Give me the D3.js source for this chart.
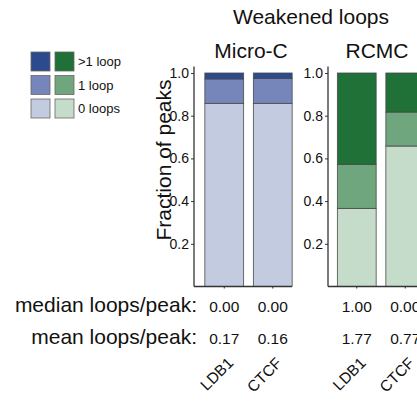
<!DOCTYPE html>
<html><head><meta charset="utf-8">
<script src="https://cdn.jsdelivr.net/npm/d3@7"></script>
<style>
html,body{margin:0;padding:0;background:#fff;}
text{font-family:"Liberation Sans",Arial,Helvetica,sans-serif;fill:#111;}
</style></head>
<body>
<svg id="c" width="417" height="407"></svg>
<script>
const categories = ["LDB1", "CTCF"];
const panels = ["Micro-C", "RCMC"];
const layers = ["0 loops", "1 loop", ">1 loop"];
const legendLabels = [">1 loop", "1 loop", "0 loops"];
// fractions per layer [0 loops, 1 loop, >1 loop]
const microC_LDB1 = [0.858, 0.114, 0.028];
const microC_CTCF = [0.858, 0.116, 0.026];
const rcmc_LDB1 = [0.366, 0.206, 0.428];
const rcmc_CTCF = [0.658, 0.159, 0.183];
const medianMicroC = ["0.00", "0.00"];
const medianRCMC = ["1.00", "0.00"];
const meanMicroC = ["0.17", "0.16"];
const meanRCMC = ["1.77", "0.77"];
const yTicks = [0.2, 0.4, 0.6, 0.8, 1.0];
const blues = ["#c3cbe1", "#7686ba", "#2d4a8e"];
const greens = ["#c5dccb", "#70a67e", "#1f7137"];

const svg = d3.select("#c");
const y = d3.scaleLinear().domain([0, 1]).range([286.5, 73]);

svg.append("text").attr("x", 311).attr("y", 24).attr("text-anchor", "middle")
  .style("font-size", "21px").text("Weakened loops");

const panelData = [
  {name: panels[0], axisX: 194, r0: 200, titleX: 251, colors: blues, vals: [microC_LDB1, microC_CTCF], med: medianMicroC, mean: meanMicroC},
  {name: panels[1], axisX: 328, r0: 332.5, titleX: 377, colors: greens, vals: [rcmc_LDB1, rcmc_CTCF], med: medianRCMC, mean: meanRCMC}
];

panelData.forEach(p => {
  const x = d3.scaleBand().domain(categories).range([p.r0, p.r0 + 97]).paddingInner(0.2).paddingOuter(0.1);
  const g = svg.append("g");
  categories.forEach((c, ci) => {
    const rows = [{}];
    layers.forEach((l, li) => rows[0][l] = p.vals[ci][li]);
    const stacked = d3.stack().keys(layers)(rows);
    stacked.forEach((s, li) => {
      g.append("rect").attr("x", x(c)).attr("width", x.bandwidth())
        .attr("y", y(s[0][1])).attr("height", y(s[0][0]) - y(s[0][1]))
        .attr("fill", p.colors[li]).attr("stroke", "#4a4a4a").attr("stroke-width", 0.8);
    });
  });
  const ya = g.append("g").attr("transform", `translate(${p.axisX},0)`)
    .call(d3.axisLeft(y).tickValues(yTicks).tickFormat(d3.format(".1f")).tickSize(3).tickPadding(2));
  ya.select(".domain").attr("d", `M0,${y(1.03)}V${y(0)}`).attr("stroke", "#333").attr("stroke-width", 1.3);
  ya.selectAll(".tick line").attr("stroke", "#333");
  ya.selectAll(".tick text").style("font-size", "14px").attr("fill", "#222");
  const xa = g.append("g").attr("transform", `translate(0,${y(0)})`)
    .call(d3.axisBottom(x).tickSize(2).tickFormat(""));
  xa.select(".domain").attr("d", `M${p.axisX},0H${p.r0 + 92}`).attr("stroke", "#333").attr("stroke-width", 1.3);
  xa.selectAll(".tick line").attr("stroke", "#333");
  g.append("text").attr("x", p.titleX).attr("y", 58).attr("text-anchor", "middle")
    .style("font-size", "21px").text(p.name);
  categories.forEach((c, ci) => {
    const cx = x(c) + x.bandwidth() / 2;
    g.append("text").attr("x", cx).attr("y", 312).attr("text-anchor", "middle")
      .style("font-size", "15.5px").text(p.med[ci]);
    g.append("text").attr("x", cx).attr("y", 344).attr("text-anchor", "middle")
      .style("font-size", "15.5px").text(p.mean[ci]);
    g.append("text").attr("transform", `translate(${cx + 10},${364}) rotate(-45)`)
      .attr("text-anchor", "end").style("font-size", "15.5px").text(c);
  });
});

svg.append("text").attr("transform", "translate(171,160) rotate(-90)").attr("text-anchor", "middle")
  .style("font-size", "21px").text("Fraction of peaks");

svg.append("text").attr("x", 197).attr("y", 312).attr("text-anchor", "end").style("font-size", "21px").text("median loops/peak:");
svg.append("text").attr("x", 197).attr("y", 344).attr("text-anchor", "end").style("font-size", "21px").text("mean loops/peak:");

const legRows = [2, 1, 0];
legRows.forEach((li, r) => {
  const yy = 52 + r * 23.5;
  svg.append("rect").attr("x", 31).attr("y", yy).attr("width", 19).attr("height", 19)
    .attr("fill", blues[li]).attr("stroke", "#666").attr("stroke-width", 0.8);
  svg.append("rect").attr("x", 55).attr("y", yy).attr("width", 19).attr("height", 19)
    .attr("fill", greens[li]).attr("stroke", "#666").attr("stroke-width", 0.8);
  svg.append("text").attr("x", 78).attr("y", yy + 14).style("font-size", "13px").text(legendLabels[r]);
});
</script>
</body></html>
